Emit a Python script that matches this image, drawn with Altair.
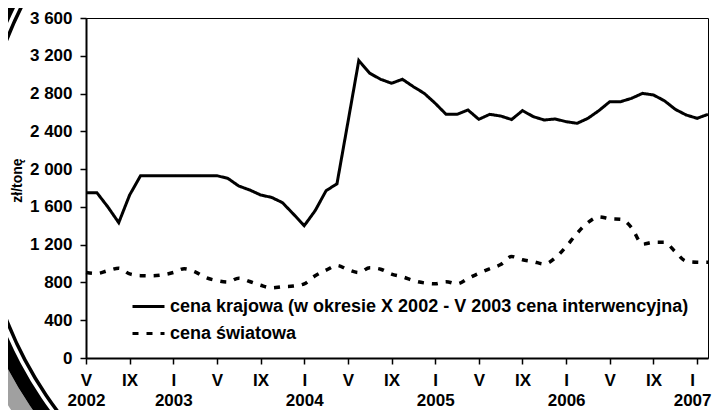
import altair as alt
import pandas as pd

# month index 0 = V 2002 ... 57 = II 2007
months = list(range(58))

krajowa = [1750, 1750, 1600, 1433, 1726, 1930, 1930, 1930, 1930, 1930,
           1930, 1930, 1930, 1902, 1821, 1779, 1726, 1701, 1645, 1525,
           1401, 1560, 1771, 1845, 2495, 3150, 3015, 2951, 2909, 2951,
           2873, 2802, 2697, 2580, 2580, 2626, 2527, 2580, 2562, 2525,
           2619, 2555, 2520, 2531, 2502, 2485, 2538, 2619, 2714, 2714,
           2750, 2802, 2785, 2724, 2633, 2573, 2538, 2580]

swiatowa = [905, 895, 925, 950, 890, 872, 870, 880, 905, 945,
            912, 850, 820, 805, 845, 810, 770, 742, 755, 762,
            785, 870, 930, 980, 935, 905, 955, 940, 888, 860,
            820, 795, 785, 808, 785, 842, 897, 945, 990, 1075,
            1040, 1020, 995, 1060, 1180, 1320, 1435, 1495, 1475, 1470,
            1380, 1205, 1225, 1225, 1125, 1025, 1015, 1013]

series_names = ["cena krajowa (w okresie X 2002 - V 2003 cena interwencyjna)",
                "cena światowa"]

y_ticks = list(range(0, 3601, 400))
x_ticks = list(range(0, 57, 4))

df = pd.DataFrame({
    "m": months * 2,
    "v": krajowa + swiatowa,
    "s": [series_names[0]] * len(months) + [series_names[1]] * len(months),
})

FONT = "Liberation Sans"

x_enc = alt.X("m:Q",
              scale=alt.Scale(domain=[0, 57], nice=False, zero=False),
              axis=alt.Axis(values=x_ticks, title=None, grid=False,
                            labelExpr="(datum.value % 12 == 8) ? ['I', '' + (2002 + floor((datum.value + 4) / 12))] : (datum.value == 0 ? ['V', '2002'] : (datum.value % 12 == 0 ? 'V' : 'IX'))",
                            labelFont=FONT, labelFontSize=17, labelFontWeight="bold",
                            labelColor="black", labelPadding=8, labelLineHeight=20,
                            labelBaseline="top",
                            labelOffset={"condition": {"test": "datum.value == 56", "value": -5}, "value": 0},
                            tickSize=6, tickColor="black", tickWidth=1.5,
                            domainColor="black", domainWidth=2, labelFlush=False))

y_enc = alt.Y("v:Q",
              scale=alt.Scale(domain=[0, 3600], nice=False),
              axis=alt.Axis(values=y_ticks, grid=False, title="zł/tonę",
                            labelExpr="replace(format(datum.value, ',d'), ',', ' ')",
                            labelFont=FONT, labelFontSize=17, labelFontWeight="bold",
                            labelColor="black", labelPadding=8,
                            tickSize=6, tickColor="black", tickWidth=1.5,
                            domainColor="black", domainWidth=2,
                            titleFont=FONT, titleFontSize=14, titleFontWeight="bold",
                            titleColor="black", titleAngle=270, titleX=-69, titleY=162,
                            titleAlign="center", titleBaseline="middle"))

dash_scale = alt.Scale(domain=series_names, range=[[1, 0], [6, 8]])
legend = alt.Legend(title=None, orient="none", legendX=45, legendY=271,
                    symbolType="stroke", symbolSize=1024, symbolStrokeWidth=3,
                    symbolStrokeColor="black", labelFont=FONT, labelFontSize=18,
                    labelFontWeight="bold", labelColor="black", labelOffset=4,
                    labelLimit=800, rowPadding=-10, padding=0)

base = alt.Chart(df)

solid = base.transform_filter(alt.datum.s == series_names[0]).mark_line(
    color="black", strokeWidth=3, interpolate="linear"
).encode(x=x_enc, y=y_enc,
         strokeDash=alt.StrokeDash("s:N", scale=dash_scale, legend=legend))

dashed = base.transform_filter(alt.datum.s == series_names[1]).mark_line(
    color="black", strokeWidth=3.5, interpolate="monotone"
).encode(x=x_enc, y=y_enc,
         strokeDash=alt.StrokeDash("s:N", scale=dash_scale, legend=legend))

# decorative page ornament (arc bands at the left edge of the page)
deco_df = pd.DataFrame({"d": [0]})
deco_cx, deco_cy = 279, 162
thin_ring = alt.Chart(deco_df).mark_arc(
    radius=383, radius2=386.5, theta=3.8, theta2=5.5, color="black"
).encode(x=alt.value(deco_cx), y=alt.value(deco_cy))
thick_ring = alt.Chart(deco_df).mark_arc(
    radius=390, radius2=404, theta=3.8, theta2=5.5, color="black"
).encode(x=alt.value(deco_cx), y=alt.value(deco_cy))
gray_ring = alt.Chart(deco_df).mark_arc(
    radius=404, radius2=422, theta=3.9, theta2=4.3, color="#a0a0a0"
).encode(x=alt.value(deco_cx), y=alt.value(deco_cy))

chart = alt.layer(gray_ring, thick_ring, thin_ring, solid, dashed).properties(
    width=622, height=340,
    autosize=alt.AutoSizeParams(type="none"),
    padding={"left": 78, "top": 10, "right": 4, "bottom": 52},
    background="white",
).configure_view(stroke="black", strokeWidth=1)

chart.save("out.html", embed_options={"renderer": "svg", "actions": False})
